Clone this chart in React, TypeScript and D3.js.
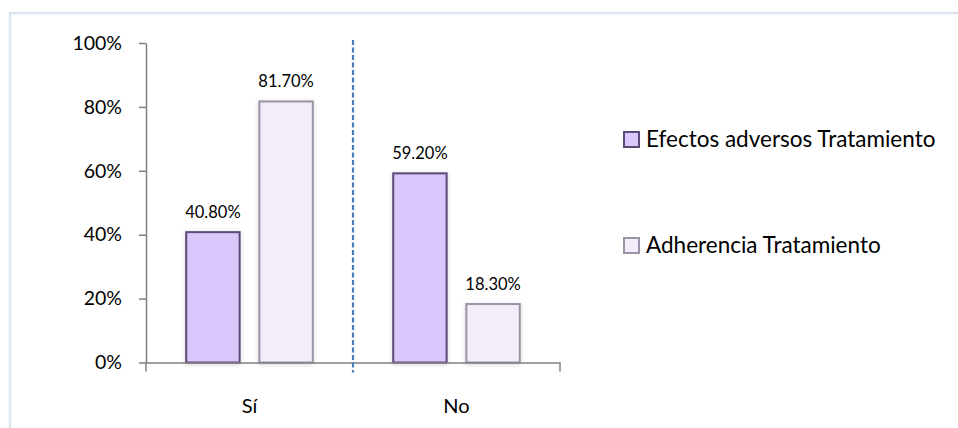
import React, { useEffect, useRef } from 'react';
import * as d3 from 'd3';

const categories = ['Sí', 'No'];
const seriesNames = ['Efectos adversos Tratamiento', 'Adherencia Tratamiento'];
const efectosAdversos = [0.408, 0.592];
const adherencia = [0.817, 0.183];
const yTicks = [0, 0.2, 0.4, 0.6, 0.8, 1];

const fills = ['#D9C8FB', '#F3EDFA'];
const strokes = ['#5B4A78', '#9B92A8'];

const App = () => {
  const svgRef = useRef<SVGSVGElement | null>(null);

  useEffect(() => {
    document.body.style.margin = '0';
    const svg = d3.select(svgRef.current);
    svg.selectAll('*').remove();

    const width = 958;
    const height = 428;
    const font = 'Lato, "Open Sans", sans-serif';

    svg.attr('width', width).attr('height', height);

    // drop shadow for bars
    const defs = svg.append('defs');
    const filter = defs.append('filter').attr('id', 'glow')
      .attr('x', '-20%').attr('y', '-20%').attr('width', '140%').attr('height', '140%');
    filter.append('feDropShadow')
      .attr('dx', 0).attr('dy', 1).attr('stdDeviation', 2)
      .attr('flood-color', '#000').attr('flood-opacity', 0.18);

    // outer frame (open on right and bottom)
    svg.append('path')
      .attr('d', `M10,${height} L10,13 L${width},13`)
      .attr('fill', 'none')
      .attr('stroke', '#DCE5F2')
      .attr('stroke-width', 2.5);

    const left = 146, right = 560, top = 43, bottom = 362.5;

    const x = d3.scaleBand().domain(categories).range([left, right]);
    const x1 = d3.scaleBand().domain(seriesNames).range([0, x.bandwidth()])
      .paddingInner(0.27).paddingOuter(0.55);
    const y = d3.scaleLinear().domain([0, 1]).range([bottom, top]);

    const rows = categories.map((c, i) => ({
      cat: c,
      values: [efectosAdversos[i], adherencia[i]],
    }));

    // bars
    const groups = svg.append('g').selectAll('g').data(rows).join('g')
      .attr('transform', (d) => `translate(${x(d.cat)},0)`);

    groups.selectAll('rect')
      .data((d) => d.values.map((v, k) => ({ v, k })))
      .join('rect')
      .attr('x', (d) => x1(seriesNames[d.k])!)
      .attr('y', (d) => y(d.v))
      .attr('width', x1.bandwidth())
      .attr('height', (d) => bottom - y(d.v))
      .attr('fill', (d) => fills[d.k])
      .attr('stroke', (d) => strokes[d.k])
      .attr('stroke-width', 2)
      .attr('filter', 'url(#glow)');

    groups.selectAll('text')
      .data((d) => d.values.map((v, k) => ({ v, k })))
      .join('text')
      .attr('x', (d) => x1(seriesNames[d.k])! + x1.bandwidth() / 2)
      .attr('y', (d) => y(d.v) - 14)
      .attr('text-anchor', 'middle')
      .attr('font-family', font)
      .attr('font-size', 16.5)
      .attr('fill', '#000')
      .text((d) => (d.v * 100).toFixed(2) + '%');

    // y axis
    const yAxis = svg.append('g')
      .attr('transform', `translate(${left},0)`)
      .call(d3.axisLeft(y).tickValues(yTicks).tickSize(7).tickSizeOuter(0)
        .tickFormat((d) => d3.format('.0%')(d as number)));
    yAxis.select('.domain').attr('stroke', '#808080').attr('stroke-width', 1.5);
    yAxis.selectAll('.tick line').attr('stroke', '#808080').attr('stroke-width', 1.5);
    yAxis.selectAll('.tick text')
      .attr('font-family', font).attr('font-size', 19.5).attr('fill', '#000')
      .attr('x', -24);

    // x axis
    const xAxis = svg.append('g')
      .attr('transform', `translate(0,${bottom})`)
      .call(d3.axisBottom(x).tickSize(0).tickSizeOuter(0));
    xAxis.select('.domain').attr('stroke', '#808080').attr('stroke-width', 1.5);
    xAxis.selectAll('.tick text')
      .attr('font-family', font).attr('font-size', 20).attr('fill', '#000')
      .attr('dy', 0).attr('y', 50);
    [left, right].forEach((px) => {
      xAxis.append('line')
        .attr('x1', px).attr('x2', px).attr('y1', 0).attr('y2', 9)
        .attr('stroke', '#808080').attr('stroke-width', 1.5);
    });

    // dashed separator between categories
    const sep = x('No')!;
    svg.append('line')
      .attr('x1', sep).attr('x2', sep)
      .attr('y1', 40).attr('y2', bottom + 10)
      .attr('stroke', '#4A7EBB')
      .attr('stroke-width', 2.2)
      .attr('stroke-dasharray', '5,2.5');

    // legend
    const legendY = [139, 245];
    const legend = svg.append('g').selectAll('g').data(seriesNames).join('g')
      .attr('transform', (d, i) => `translate(624,${legendY[i]})`);
    legend.append('rect')
      .attr('x', 0).attr('y', -7).attr('width', 15).attr('height', 15)
      .attr('fill', (d, i) => fills[i])
      .attr('stroke', (d, i) => strokes[i])
      .attr('stroke-width', 2);
    legend.append('text')
      .attr('x', 22).attr('y', 0).attr('dy', '0.35em')
      .attr('font-family', font).attr('font-size', 22.5).attr('fill', '#000')
      .text((d) => d);
  }, []);

  return <svg ref={svgRef} style={{ display: 'block' }}></svg>;
};

export default App;
